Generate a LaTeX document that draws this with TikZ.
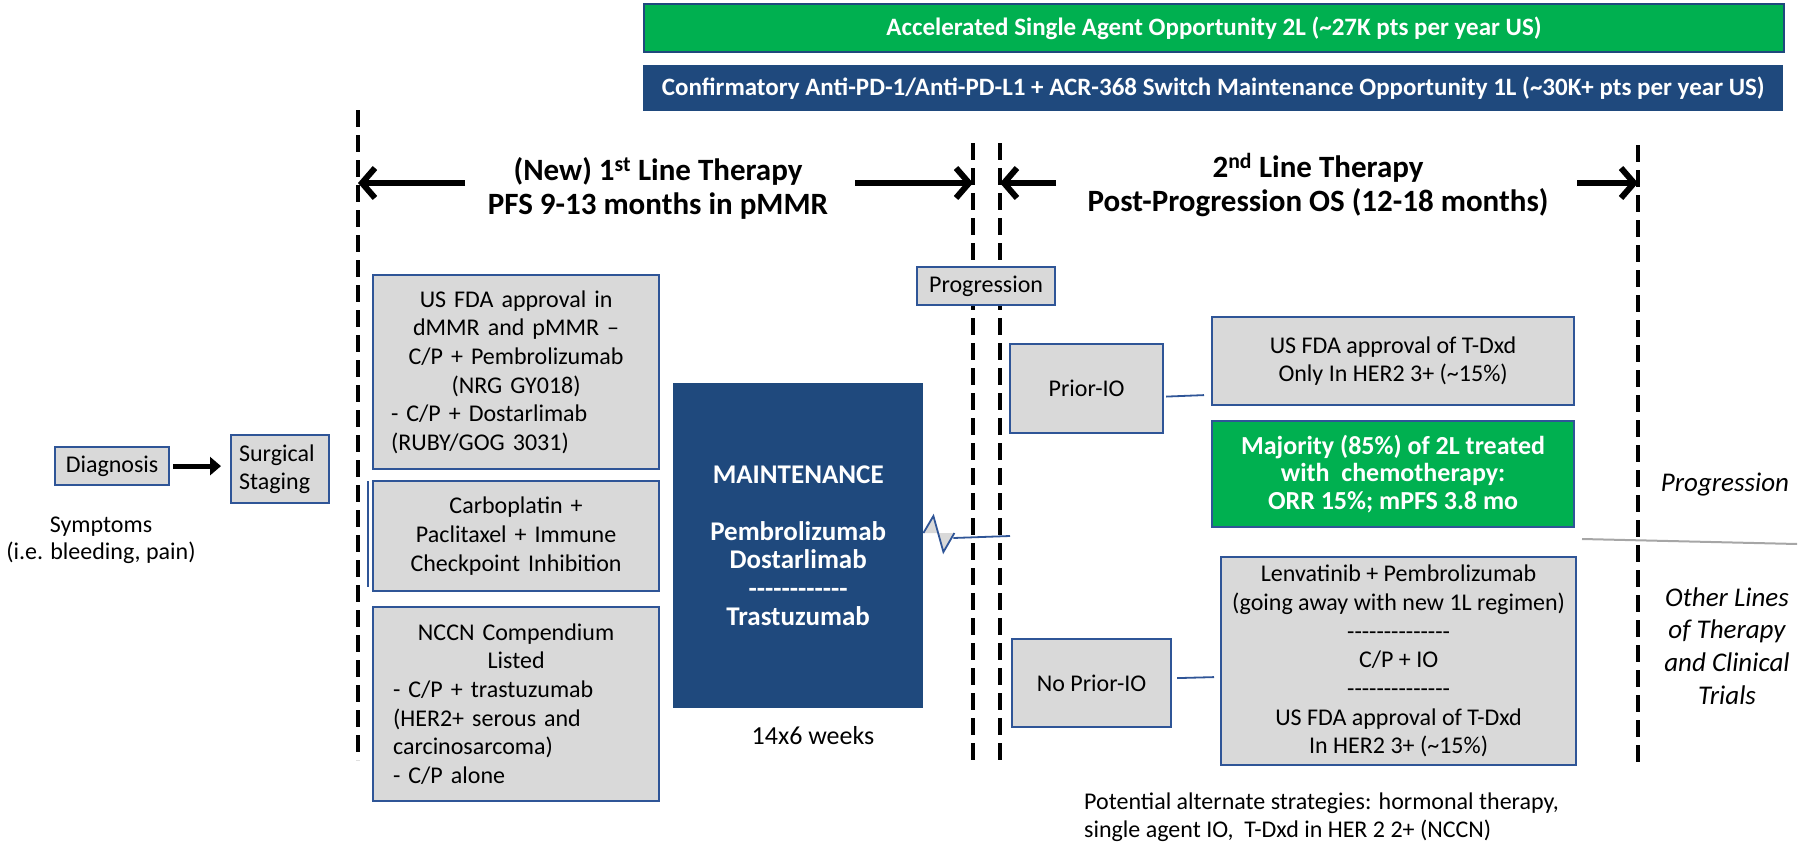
\documentclass[tikz,border=0pt]{standalone}
\usepackage{fontspec}
\setmainfont{Carlito}
\usetikzlibrary{arrows.meta,calc}
\definecolor{navy}{HTML}{1F497D}
\definecolor{bord}{HTML}{2F5597}
\definecolor{grn}{HTML}{00B050}
\definecolor{boxgray}{HTML}{D9D9D9}
\newcommand{\fs}[2]{\fontsize{#1}{#2}\selectfont}
\newcommand{\lft}[2]{\makebox[#1][l]{#2}}
\newcommand{\hy}{-{}}
\begin{document}
\begin{tikzpicture}[x=1pt,y=-1pt,
  gbox/.style={draw=bord,line width=2.2pt,fill=boxgray,anchor=north west,inner sep=0pt,align=center,font=\fs{24}{28.7}},
  grnbox/.style={draw=bord,line width=2.2pt,fill=grn,anchor=north west,inner sep=0pt,align=center,text=white,font=\bfseries\fs{26}{27.7}},
  navybox/.style={fill=navy,anchor=north west,inner sep=0pt,align=center,text=white,font=\bfseries\fs{27}{28.5}},
  banner/.style={anchor=north west,inner sep=0pt,text=white,font=\bfseries\fs{25}{28}},
  plain/.style={inner sep=0pt,align=center,font=\fs{24}{27}},
  title/.style={inner sep=0pt,align=center,font=\bfseries\fs{31}{34}},
  sidetext/.style={inner sep=0pt,align=center,font=\itshape\fs{27}{32.7}},
  vdash/.style={line width=4.5pt,dash pattern=on 17pt off 8pt},
  bigarrow/.style={line width=6.5pt,-{Straight Barb[length=13pt,width=30pt,line width=6pt]}},
  diagarrow/.style={line width=5pt,-{Triangle[length=11pt,width=18pt]}},
  conn/.style={draw=bord,line width=1.8pt},
]
\useasboundingbox (0,0) rectangle (1808,843);

% banners
\node[banner,fill=grn,draw=navy,line width=2pt,minimum width=1140,minimum height=48] (ban1) at (643,3) {Accelerated Single Agent Opportunity 2L (\textasciitilde 27K pts per year US)};
\node[banner,fill=navy,minimum width=1140,minimum height=46] (ban2) at (643,65) {Confirmatory Anti-PD-1/Anti-PD-L1 + ACR-368 Switch Maintenance Opportunity 1L (\textasciitilde 30K+ pts per year US)};

% dashed vertical lines
\coordinate (d1t) at (358,110); \coordinate (d1b) at (358,760);
\coordinate (d2t) at (973,143); \coordinate (d2b) at (973,761);
\coordinate (d3t) at (1000,143); \coordinate (d3b) at (1000,761);
\coordinate (d4t) at (1638,145); \coordinate (d4b) at (1638,767);
\draw[vdash] (d1t) -- (d1b);
\draw[vdash] (d2t) -- (d2b);
\draw[vdash] (d3t) -- (d3b);
\draw[vdash] (d4t) -- (d4b);

% titles
\node[title] (t1) at (658,188) {(New) 1\textsuperscript{st} Line Therapy\\PFS 9-13 months in pMMR};
\node[title] (t2) at (1318,185) {2\textsuperscript{nd} Line Therapy\\Post-Progression OS (12-18 months)};
\coordinate (a1l) at (465,183);
\coordinate (a1r) at (855,183);
\coordinate (a2l) at (1056,183);
\coordinate (a2r) at (1577,183);
\draw[bigarrow] (a1l) -- (a1l -| d1t);
\draw[bigarrow] (a1r) -- (a1r -| d2t);
\draw[bigarrow] (a2l) -- (a2l -| d3t);
\draw[bigarrow] (a2r) -- (a2r -| d4t);

% left part
\node[gbox,minimum width=114,minimum height=38] (diag) at (54,446) {Diagnosis};
\node[gbox,minimum width=98,minimum height=68,text width=82,align=left] (surg) at (230,434) {Surgical\\Staging};
\draw[diagarrow] ([xshift=3pt]diag.east) -- ([xshift=-9pt]surg.west |- diag.east);
\node[plain] (symp) at (101,540) {Symptoms\\(i.e. bleeding, pain)};

% 1L boxes
\node[gbox,minimum width=286,minimum height=194,text width=250] (boxA) at (372,274)
  {US FDA approval in\\dMMR and pMMR –\\C/P + Pembrolizumab\\(NRG GY018)\\\lft{250pt}{- C/P + Dostarlimab}\\\lft{250pt}{(RUBY/GOG 3031)}};
\node[gbox,minimum width=286,minimum height=110,text width=262] (boxB) at (372,480)
  {Carboplatin +\\Paclitaxel + Immune\\Checkpoint Inhibition};
\draw[conn,line width=1.5pt] ([xshift=-4pt,yshift=-1pt]boxB.north west) -- ([xshift=-4pt,yshift=5pt]boxB.south west);
\node[gbox,minimum width=286,minimum height=194,text width=246] (boxC) at (372,606)
  {NCCN Compendium\\Listed\\\lft{246pt}{- C/P + trastuzumab}\\\lft{246pt}{(HER2+ serous and}\\\lft{246pt}{carcinosarcoma)}\\\lft{246pt}{- C/P alone}};

% maintenance
\node[navybox,minimum width=250,minimum height=325] (maint) at (673,383)
  {MAINTENANCE\\[28.5pt]Pembrolizumab\\Dostarlimab\\\hy\hy\hy\hy\hy\hy\hy\hy\hy\hy\hy\hy\\Trastuzumab};
\node[plain,font=\fs{26}{28}] (weeks) at (813,736) {14x6 weeks};

% progression box
\node[gbox,minimum width=138,minimum height=38] (prog) at (916,266) {Progression};

% 2L boxes
\node[gbox,minimum width=153,minimum height=89] (prior) at (1009,343) {Prior-IO};
\node[gbox,minimum width=159,minimum height=88] (noprior) at (1011,638) {No Prior-IO};
\node[gbox,minimum width=362,minimum height=88] (tdxd) at (1211,316)
  {US FDA approval of T-Dxd\\Only In HER2 3+ (\textasciitilde 15\%)};
\node[grnbox,minimum width=362,minimum height=106] (maj) at (1211,420)
  {Majority (85\%) of 2L treated\\with\ \ chemotherapy:\\ORR 15\%; mPFS 3.8 mo};
\node[gbox,minimum width=355,minimum height=208] (lenva) at (1220,556)
  {Lenvatinib + Pembrolizumab\\(going away with new 1L regimen)\\\hy\hy\hy\hy\hy\hy\hy\hy\hy\hy\hy\hy\hy\hy\\C/P + IO\\\hy\hy\hy\hy\hy\hy\hy\hy\hy\hy\hy\hy\hy\hy\\US FDA approval of T-Dxd\\In HER2 3+ (\textasciitilde 15\%)};

\draw[conn] ($(prior.east)+(2,8)$) -- ($(tdxd.west)+(-7,34)$);
\draw[conn] ($(noprior.east)+(5,-5)$) -- ($(lenva.west)+(-6,16)$);

% zigzag connector
\coordinate (zzend) at (1010,536);
\fill[black!15] (maint.east |- zzend) ++(0,-3) coordinate (zz0) -- ++(10,-17) -- ++(10,36) -- ++(11,-19) -- cycle;
\draw[conn] (zz0) -- ++(10,-17) -- ++(10,36) -- ++(11,-19);
\draw[conn] ($(zz0)+(30,5)$) -- (zzend);

% right side
\node[sidetext] (prog2) at (1725,485) {Progression};
\coordinate (gl1) at (1582,539);
\coordinate (gl2) at (1797,544);
\draw[black!35,line width=2pt] (gl1) -- (gl2);
\node[sidetext] (other) at (1727,646) {Other Lines\\of Therapy\\and Clinical\\Trials};

\node[plain,anchor=west,align=left,font=\fs{24}{28}] (pot) at (1084,817)
  {Potential alternate strategies: hormonal therapy,\\single agent IO,\ \ T-Dxd in HER 2 2+ (NCCN)};
\end{tikzpicture}
\end{document}
